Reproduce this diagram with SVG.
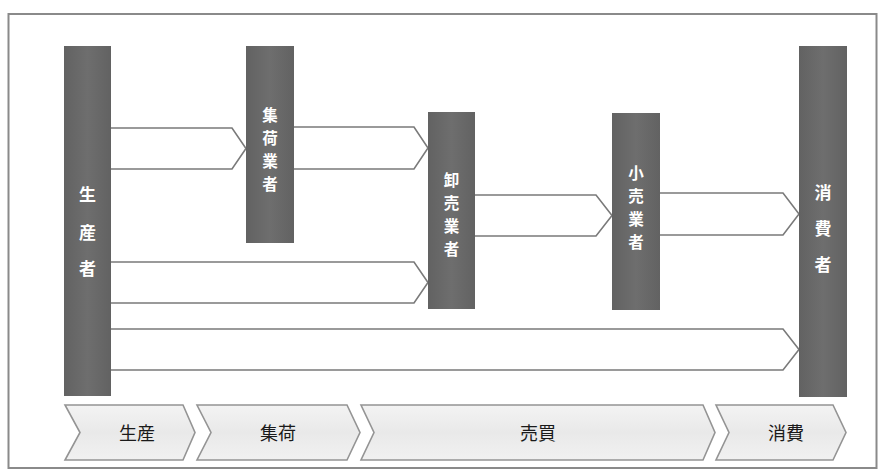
<svg xmlns="http://www.w3.org/2000/svg" width="883" height="475" viewBox="0 0 883 475">
<defs>
<linearGradient id="bar" x1="0" y1="0" x2="1" y2="0">
<stop offset="0" stop-color="#626262"/>
<stop offset="0.5" stop-color="#6e6e6e"/>
<stop offset="1" stop-color="#626262"/>
</linearGradient>
<linearGradient id="chev" x1="0" y1="0" x2="0" y2="1">
<stop offset="0" stop-color="#f3f3f3"/>
<stop offset="0.5" stop-color="#e9e9e9"/>
<stop offset="1" stop-color="#f1f1f1"/>
</linearGradient>
<style>
.bar{fill:url(#bar);}
.bt{font-family:"Noto Sans CJK JP","Noto Sans CJK SC",sans-serif;font-size:17px;font-weight:bold;fill:#ffffff;text-anchor:middle;}
.bt4{font-family:"Noto Sans CJK JP","Noto Sans CJK SC",sans-serif;font-size:15.5px;font-weight:bold;fill:#ffffff;text-anchor:middle;}
.arr{fill:#ffffff;stroke:#7a7a7a;stroke-width:1.6;stroke-linejoin:miter;}
.chev{fill:url(#chev);stroke:#949494;stroke-width:1.6;}
.ct{font-family:"Noto Sans CJK JP","Noto Sans CJK SC",sans-serif;font-size:18px;fill:#1a1a1a;text-anchor:middle;dominant-baseline:central;}
</style>
</defs>
<rect x="0" y="0" width="883" height="475" fill="#ffffff"/>
<rect x="8.5" y="14" width="868" height="454" fill="none" stroke="#8a8a8a" stroke-width="2"/>

<g id="connectors">
<path class="arr" d="M111,128 H232 L246,148.5 L232,169 H111"/>
<path class="arr" d="M294,127 H414 L428,148 L414,169 H294"/>
<path class="arr" d="M475,195 H596 L612,215.5 L596,236 H475"/>
<path class="arr" d="M660,193 H783 L799,214 L783,235 H660"/>
<path class="arr" d="M111,262 H414 L428,282.5 L414,303 H111"/>
<path class="arr" d="M111,329 H783 L799,349.5 L783,370 H111"/>
</g>

<g id="producer">
<rect class="bar" x="64" y="46" width="47" height="350"/>
<text class="bt"><tspan x="87.5" y="201">生</tspan><tspan x="87.5" y="239">産</tspan><tspan x="87.5" y="275">者</tspan></text>
</g>
<g id="collector">
<rect class="bar" x="246" y="46" width="48" height="197"/>
<text class="bt4"><tspan x="270" y="121">集</tspan><tspan x="270" y="144">荷</tspan><tspan x="270" y="167">業</tspan><tspan x="270" y="190">者</tspan></text>
</g>
<g id="wholesaler">
<rect class="bar" x="428" y="112" width="47" height="197"/>
<text class="bt4"><tspan x="451.5" y="186">卸</tspan><tspan x="451.5" y="209">売</tspan><tspan x="451.5" y="232">業</tspan><tspan x="451.5" y="255">者</tspan></text>
</g>
<g id="retailer">
<rect class="bar" x="612" y="113" width="48" height="197"/>
<text class="bt4"><tspan x="636" y="179">小</tspan><tspan x="636" y="202">売</tspan><tspan x="636" y="225">業</tspan><tspan x="636" y="248">者</tspan></text>
</g>
<g id="consumer">
<rect class="bar" x="799" y="46" width="48" height="351"/>
<text class="bt"><tspan x="823" y="199">消</tspan><tspan x="823" y="235">費</tspan><tspan x="823" y="271">者</tspan></text>
</g>

<g id="stage-production">
<path class="chev" d="M65,405 H183 L195,432.5 L183,460 H65 L80,432.5 Z"/>
<text class="ct" x="137" y="432">生産</text>
</g>
<g id="stage-collection">
<path class="chev" d="M197,405 H347 L360,432.5 L347,460 H197 L211,432.5 Z"/>
<text class="ct" x="278" y="432">集荷</text>
</g>
<g id="stage-trade">
<path class="chev" d="M361,405 H703 L715,432.5 L703,460 H361 L374,432.5 Z"/>
<text class="ct" x="538" y="432">売買</text>
</g>
<g id="stage-consumption">
<path class="chev" d="M716,405 H833 L846,432.5 L833,460 H716 L729,432.5 Z"/>
<text class="ct" x="786" y="432">消費</text>
</g>
</svg>
